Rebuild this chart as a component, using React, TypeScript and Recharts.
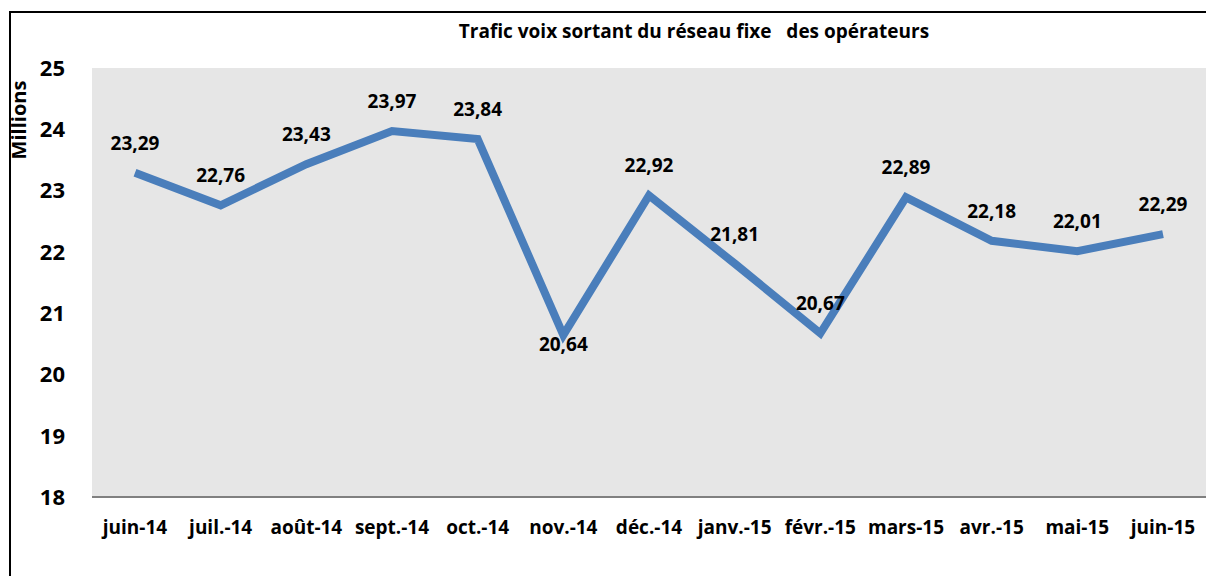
import React from 'react';
import {CartesianGrid, LabelList, Line, LineChart, XAxis, YAxis} from 'recharts';

// Monthly outgoing voice traffic, fixed network (millions)
const MONTHS = [
  'juin-14',
  'juil.-14',
  'août-14',
  'sept.-14',
  'oct.-14',
  'nov.-14',
  'déc.-14',
  'janv.-15',
  'févr.-15',
  'mars-15',
  'avr.-15',
  'mai-15',
  'juin-15',
];
const TRAFFIC = [
  23.29, 22.76, 23.43, 23.97, 23.84, 20.64, 22.92, 21.81, 20.67, 22.89, 22.18,
  22.01, 22.29,
];
const Y_TICKS = [18, 19, 20, 21, 22, 23, 24, 25];

const FONT = '"Open Sans", Calibri, sans-serif';
const LINE_COLOR = '#4A7EBB';

const data = MONTHS.map((m, i) => ({month: m, value: TRAFFIC[i]}));

const fmt = (v: number) => v.toFixed(2).replace('.', ',');

// labels sit above the point, except the lowest one which drops below
const ValueLabel = (props: any) => {
  const {x, y, value, index} = props;
  const below = index === 5;
  return (
    <text
      x={x}
      y={below ? y + 9 : y - 30}
      textAnchor="middle"
      dominantBaseline="central"
      fontFamily={FONT}
      fontWeight="bold"
      fontSize={19}
      fill="#000">
      {fmt(value)}
    </text>
  );
};

export default function App() {
  return (
    <div
      style={{
        position: 'absolute',
        left: 0,
        top: 0,
        width: 1206,
        height: 576,
        overflow: 'hidden',
        background: '#fff',
        fontFamily: FONT,
      }}>
      <div
        style={{
          position: 'absolute',
          left: 9,
          top: 11,
          width: 1400,
          height: 800,
          border: '2px solid #000',
        }}
      />
      <div
        style={{
          position: 'absolute',
          left: 0,
          top: 18,
          width: 1388,
          textAlign: 'center',
          fontWeight: 'bold',
          fontSize: 19,
          whiteSpace: 'pre',
        }}>
        {'Trafic voix sortant du réseau fixe   des opérateurs'}
      </div>
      <div
        style={{
          position: 'absolute',
          left: 18,
          top: 120,
          transform: 'translate(-50%, -50%) rotate(-90deg)',
          fontWeight: 'bold',
          fontSize: 20,
        }}>
        Millions
      </div>
      <div style={{position: 'absolute', left: 0, top: 0}}>
        <LineChart
          width={1206}
          height={576}
          data={data}
          margin={{top: 68, right: 0, bottom: 49, left: 0}}>
          <CartesianGrid
            fill="#E6E6E6"
            stroke="none"
            horizontal={false}
            vertical={false}
          />
          <XAxis
            dataKey="month"
            height={30}
            padding={{left: 43, right: 43}}
            axisLine={{stroke: '#808080', strokeWidth: 2}}
            tickLine={false}
            tickSize={0}
            tickMargin={24}
            interval={0}
            tick={{
              fill: '#000',
              fontFamily: FONT,
              fontWeight: 'bold',
              fontSize: 19,
            }}
          />
          <YAxis
            width={92}
            domain={[18, 25]}
            ticks={Y_TICKS}
            axisLine={false}
            tickLine={false}
            tickSize={0}
            tickMargin={27}
            tick={{
              fill: '#000',
              fontFamily: FONT,
              fontWeight: 'bold',
              fontSize: 22,
            }}
          />
          <Line
            type="linear"
            dataKey="value"
            stroke={LINE_COLOR}
            strokeWidth={8}
            dot={false}
            isAnimationActive={false}>
            <LabelList dataKey="value" content={<ValueLabel />} />
          </Line>
        </LineChart>
      </div>
    </div>
  );
}
